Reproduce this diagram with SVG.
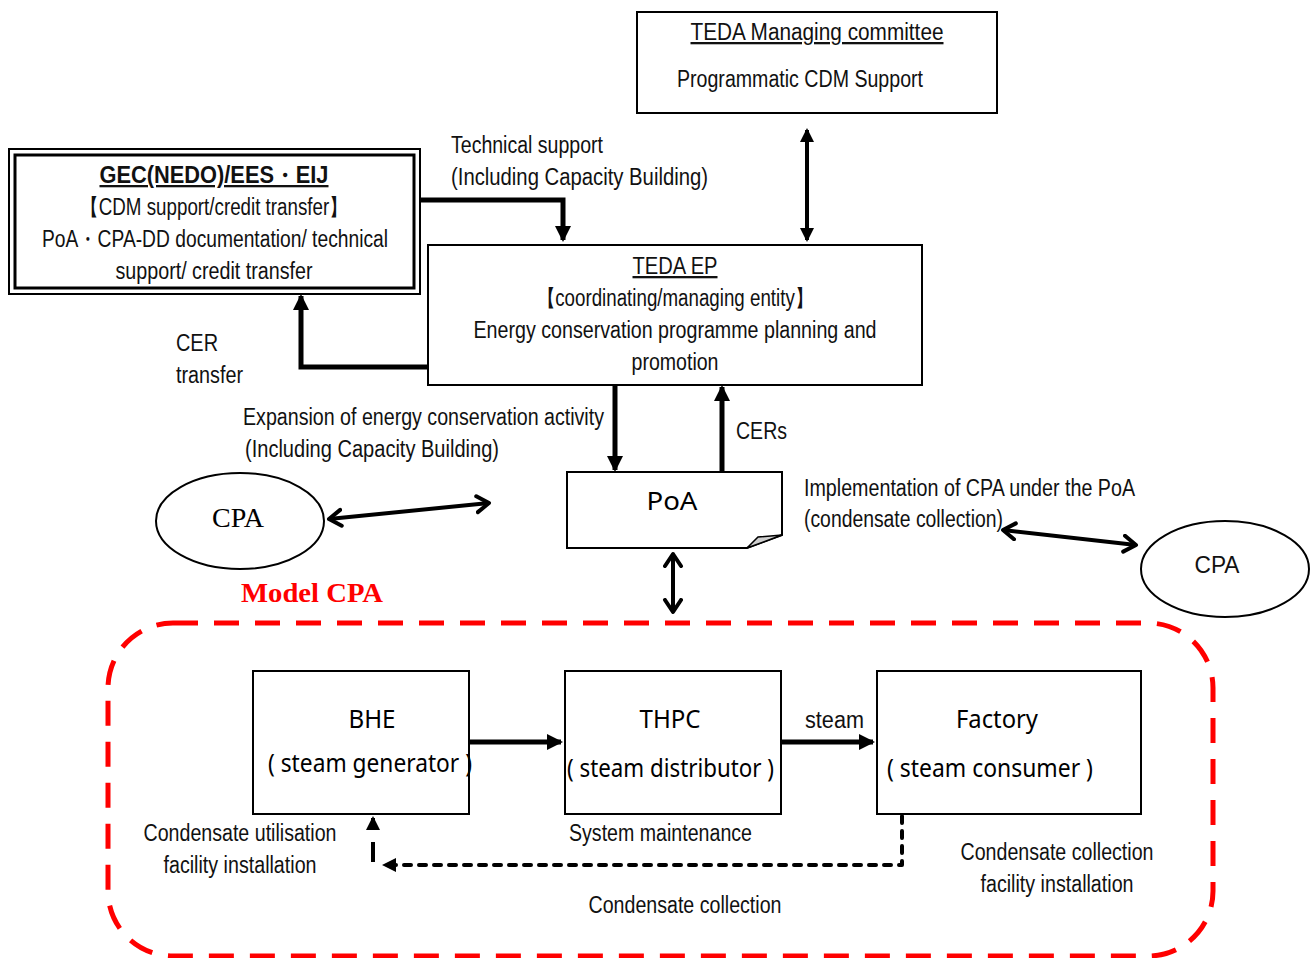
<svg xmlns="http://www.w3.org/2000/svg" width="1310" height="958" viewBox="0 0 1310 958">
<defs>
<style>
.t{font-family:"Liberation Sans",Arial,sans-serif;font-size:23px;fill:#111;}
.c{text-anchor:middle;}
.u{text-decoration:underline;}
.box{fill:#fff;stroke:#000;stroke-width:2;}
.thick{fill:none;stroke:#000;stroke-width:5;}
.dbl{fill:none;stroke:#000;stroke-width:4;}
.big{font-family:"Noto Sans","DejaVu Sans",sans-serif;font-size:25px;fill:#000;}
</style>
<marker id="tri" markerUnits="userSpaceOnUse" markerWidth="20" markerHeight="20" refX="14" refY="8" orient="auto">
<path d="M0,0 L16,8 L0,16 Z" fill="#000"/>
</marker>
<marker id="triS" markerUnits="userSpaceOnUse" markerWidth="20" markerHeight="20" refX="12" refY="7" orient="auto-start-reverse">
<path d="M0,0 L14,7 L0,14 Z" fill="#000"/>
</marker>
<marker id="chev" markerUnits="userSpaceOnUse" markerWidth="24" markerHeight="24" refX="14" refY="10" orient="auto-start-reverse">
<path d="M2,2 L14,10 L2,18" fill="none" stroke="#000" stroke-width="4" stroke-linecap="round" stroke-linejoin="round"/>
</marker>
<marker id="tri2" markerUnits="userSpaceOnUse" markerWidth="20" markerHeight="20" refX="12" refY="7" orient="auto">
<path d="M0,0 L14,7 L0,14 Z" fill="#000"/>
</marker>
</defs>
<rect width="1310" height="958" fill="#fff"/>

<g id="connectors">
<path class="thick" d="M420,200 H563 V240" marker-end="url(#tri)"/>
<path class="thick" d="M428,367 H301 V296" marker-end="url(#tri)"/>
<path class="thick" d="M615,385 V470" marker-end="url(#tri)"/>
<path class="thick" d="M722,472 V387" marker-end="url(#tri)"/>
<path class="dbl" d="M807,130 V240" marker-start="url(#triS)" marker-end="url(#triS)"/>
<path class="dbl" d="M673,554 V612" marker-start="url(#chev)" marker-end="url(#chev)"/>
<path class="dbl" d="M329,519 L489,503" marker-start="url(#chev)" marker-end="url(#chev)"/>
<path class="dbl" d="M1003,530 L1136,545" marker-start="url(#chev)" marker-end="url(#chev)"/>
<path class="thick" d="M469,742 H561" marker-end="url(#tri)"/>
<path class="thick" d="M781,742 H873" marker-end="url(#tri)"/>
<path d="M902,816 V865 H384" fill="none" stroke="#000" stroke-width="4" stroke-dasharray="7 8" stroke-linecap="round" stroke-linejoin="round" marker-end="url(#tri2)"/>
<path d="M373,862 V832" fill="none" stroke="#000" stroke-width="4" stroke-dasharray="20 12"/>
<path d="M373,830 V818" fill="none" stroke="#000" stroke-width="4" marker-end="url(#tri2)"/>
</g>

<g id="model-cpa-frame">
<rect x="108" y="623" width="1105" height="333" rx="65" fill="none" stroke="#ff0000" stroke-width="5" stroke-dasharray="25 16"/>
<text x="241" y="602" font-family="'Liberation Serif','Times New Roman',serif" font-size="28" font-weight="bold" fill="#ff0000" textLength="142" lengthAdjust="spacingAndGlyphs">Model CPA</text>
</g>

<g id="teda-committee">
<rect class="box" x="637" y="12" width="360" height="101"/>
<text class="t c u" x="817" y="40" textLength="253" lengthAdjust="spacingAndGlyphs">TEDA Managing committee</text>
<text class="t" x="677" y="87" textLength="246" lengthAdjust="spacingAndGlyphs">Programmatic CDM Support</text>
</g>

<g id="gec">
<rect x="9" y="149" width="411" height="145" fill="#fff" stroke="#000" stroke-width="2"/>
<rect x="15" y="155" width="399" height="133" fill="none" stroke="#000" stroke-width="3"/>
<text class="t c u" x="214" y="183" textLength="229" lengthAdjust="spacingAndGlyphs" font-weight="bold">GEC(NEDO)/EES・EIJ</text>
<text class="t c" x="214" y="215" textLength="268" lengthAdjust="spacingAndGlyphs">【CDM support/credit transfer】</text>
<text class="t c" x="215" y="247" textLength="346" lengthAdjust="spacingAndGlyphs">PoA・CPA-DD documentation/ technical</text>
<text class="t c" x="214" y="279" textLength="197" lengthAdjust="spacingAndGlyphs">support/ credit transfer</text>
</g>

<g id="tech-support-label">
<text class="t" x="451" y="153" textLength="152" lengthAdjust="spacingAndGlyphs">Technical support</text>
<text class="t" x="451" y="185" textLength="257" lengthAdjust="spacingAndGlyphs">(Including Capacity Building)</text>
</g>

<g id="teda-ep">
<rect class="box" x="428" y="245" width="494" height="140"/>
<text class="t c u" x="675" y="274" textLength="85" lengthAdjust="spacingAndGlyphs">TEDA EP</text>
<text class="t c" x="675" y="306" textLength="277" lengthAdjust="spacingAndGlyphs">【coordinating/managing entity】</text>
<text class="t c" x="675" y="338" textLength="403" lengthAdjust="spacingAndGlyphs">Energy conservation programme planning and</text>
<text class="t c" x="675" y="370" textLength="87" lengthAdjust="spacingAndGlyphs">promotion</text>
</g>

<g id="labels">
<text class="t" x="176" y="351" textLength="42" lengthAdjust="spacingAndGlyphs">CER</text>
<text class="t" x="176" y="383" textLength="67" lengthAdjust="spacingAndGlyphs">transfer</text>
<text class="t" x="243" y="425" textLength="361" lengthAdjust="spacingAndGlyphs">Expansion of energy conservation activity</text>
<text class="t" x="245" y="457" textLength="254" lengthAdjust="spacingAndGlyphs">(Including Capacity Building)</text>
<text class="t" x="736" y="439" textLength="51" lengthAdjust="spacingAndGlyphs">CERs</text>
<text class="t" x="804" y="496" textLength="331" lengthAdjust="spacingAndGlyphs">Implementation of CPA under the PoA</text>
<text class="t" x="804" y="527" textLength="199" lengthAdjust="spacingAndGlyphs">(condensate collection)</text>
<text class="t" x="805" y="728" textLength="59" lengthAdjust="spacingAndGlyphs">steam</text>
<text class="t c" x="240" y="841" textLength="193" lengthAdjust="spacingAndGlyphs">Condensate utilisation</text>
<text class="t c" x="240" y="873" textLength="153" lengthAdjust="spacingAndGlyphs">facility installation</text>
<text class="t" x="569" y="841" textLength="183" lengthAdjust="spacingAndGlyphs">System maintenance</text>
<text class="t c" x="685" y="913" textLength="193" lengthAdjust="spacingAndGlyphs">Condensate collection</text>
<text class="t c" x="1057" y="860" textLength="193" lengthAdjust="spacingAndGlyphs">Condensate collection</text>
<text class="t c" x="1057" y="892" textLength="153" lengthAdjust="spacingAndGlyphs">facility installation</text>
</g>

<g id="poa">
<path d="M567,472 H782 V535 L747,548 H567 Z" fill="#fff" stroke="#000" stroke-width="2"/>
<path d="M747,548 L758,537 L782,535 Z" fill="#cfcfcf" stroke="#000" stroke-width="1.5"/>
<text class="big c" x="672" y="510" font-size="28" textLength="51" lengthAdjust="spacingAndGlyphs">PoA</text>
</g>

<g id="cpa-left">
<ellipse cx="240" cy="521" rx="84" ry="48" fill="#fff" stroke="#000" stroke-width="2"/>
<text x="238" y="527" text-anchor="middle" font-family="'Liberation Serif','Times New Roman',serif" font-size="28" fill="#000">CPA</text>
</g>

<g id="cpa-right">
<ellipse cx="1225" cy="569" rx="84" ry="48" fill="#fff" stroke="#000" stroke-width="2"/>
<text class="t c" x="1217" y="573" font-size="27" textLength="45" lengthAdjust="spacingAndGlyphs">CPA</text>
</g>

<g id="bhe">
<rect class="box" x="253" y="671" width="216" height="143"/>
<text class="big c" x="372" y="728" textLength="47" lengthAdjust="spacingAndGlyphs">BHE</text>
<text class="big" x="268" y="772" textLength="204" lengthAdjust="spacingAndGlyphs">( steam generator )</text>
</g>

<g id="thpc">
<rect class="box" x="565" y="671" width="216" height="143"/>
<text class="big c" x="670" y="728" textLength="61" lengthAdjust="spacingAndGlyphs">THPC</text>
<text class="big" x="567" y="777" textLength="207" lengthAdjust="spacingAndGlyphs">( steam distributor )</text>
</g>

<g id="factory">
<rect class="box" x="877" y="671" width="264" height="143"/>
<text class="big c" x="997" y="728" textLength="82" lengthAdjust="spacingAndGlyphs">Factory</text>
<text class="big" x="887" y="777" textLength="206" lengthAdjust="spacingAndGlyphs">( steam consumer )</text>
</g>
</svg>
